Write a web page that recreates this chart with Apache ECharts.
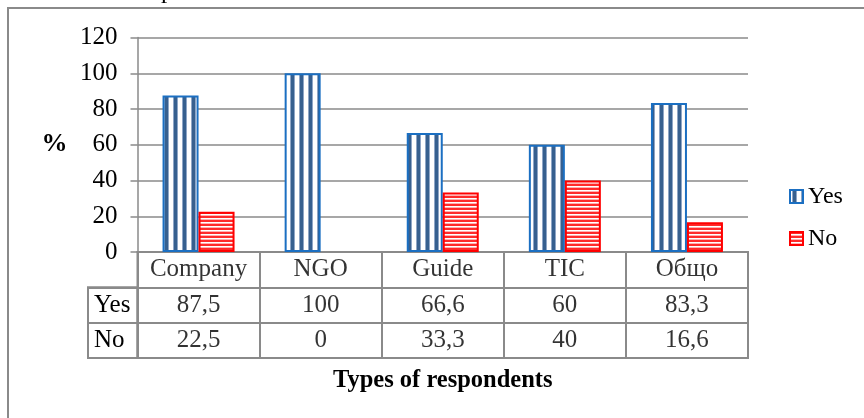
<!DOCTYPE html>
<html>
<head>
<meta charset="utf-8">
<script src="https://cdn.jsdelivr.net/npm/echarts@6/dist/echarts.min.js"></script>
<style>
html,body{margin:0;padding:0;background:#fff;}
#c{width:864px;height:418px;}
</style>
</head>
<body>
<div id="c"></div>
<script>
var categories = ['Company', 'NGO', 'Guide', 'TIC', 'Общо'];
var yesValues = [87.5, 100, 66.6, 60, 83.3];
var noValues = [22.5, 0, 33.3, 40, 16.6];
var seriesNames = ['Yes', 'No'];
var yTicks = { min: 0, max: 120, interval: 20 };

var FONT = 'Liberation Serif';
var FS = 25;
var GRAY = '#8a8a8a';

function fmt(v) { return String(v).replace('.', ','); }
function barVal(v) { return v === 0 ? null : v; }

function verticalStripes() {
  var c = document.createElement('canvas');
  c.width = 9; c.height = 9;
  var g = c.getContext('2d');
  g.fillStyle = '#ffffff'; g.fillRect(0, 0, 9, 9);
  g.fillStyle = '#8fa6c6'; g.fillRect(2, 0, 1, 9); g.fillRect(6, 0, 1, 9);
  g.fillStyle = '#37608f'; g.fillRect(3, 0, 3, 9);
  return c;
}
function horizontalStripes() {
  var c = document.createElement('canvas');
  c.width = 4; c.height = 4;
  var g = c.getContext('2d');
  g.fillStyle = '#ffffff'; g.fillRect(0, 0, 4, 4);
  g.fillStyle = '#ffb0b0'; g.fillRect(0, 3, 4, 1);
  g.fillStyle = '#ff2b2b'; g.fillRect(0, 0, 4, 2);
  return c;
}

var yesColor = { image: verticalStripes(), repeat: 'repeat' };
var noColor = { image: horizontalStripes(), repeat: 'repeat' };

var tableData = [];
for (var i = 0; i < categories.length; i++) {
  tableData.push([i, 2, categories[i]]);
  tableData.push([i, 1, fmt(yesValues[i])]);
  tableData.push([i, 0, fmt(noValues[i])]);
}

var chart = echarts.init(document.getElementById('c'), null, { renderer: 'canvas' });

chart.setOption({
  backgroundColor: '#fff',
  animation: false,
  textStyle: { fontFamily: FONT },
  graphic: [
    { type: 'rect', shape: { x: 8, y: 8, width: 1000, height: 600 }, style: { fill: 'none', stroke: GRAY, lineWidth: 2 }, silent: true },
    { type: 'text', left: 161, top: -21, style: { text: 'p', font: '25px "Liberation Serif"', fill: '#000' }, silent: true }
  ],
  legend: {
    data: seriesNames,
    orient: 'vertical',
    left: 789,
    top: 184,
    padding: 0,
    itemWidth: 13,
    itemHeight: 13,
    itemGap: 17,
    icon: 'rect',
    textStyle: { fontFamily: FONT, fontSize: 24, color: '#000', lineHeight: 25 }
  },
  grid: [
    { left: 137.5, top: 37.5, width: 610.5, height: 214.5, containLabel: false },
    { left: 137.5, top: 252, width: 610.5, height: 106, show: true, borderColor: GRAY, borderWidth: 2, backgroundColor: 'transparent' },
    { left: 88, top: 287.3, width: 49.5, height: 70.7, show: true, borderColor: GRAY, borderWidth: 2, backgroundColor: 'transparent' }
  ],
  xAxis: [
    { gridIndex: 0, type: 'category', data: categories, axisLine: { show: true, lineStyle: { color: GRAY, width: 2 } }, axisTick: { show: false }, axisLabel: { show: false }, splitLine: { show: false } },
    { gridIndex: 1, type: 'category', data: categories, axisLine: { show: false }, axisTick: { show: false }, axisLabel: { show: false },
      splitLine: { show: true, lineStyle: { color: GRAY, width: 2 } },
      name: 'Types of respondents', nameLocation: 'middle', nameGap: 10,
      nameTextStyle: { fontFamily: FONT, fontSize: 24.5, fontWeight: 'bold', color: '#000' } },
    { gridIndex: 2, type: 'category', data: [''], axisLine: { show: false }, axisTick: { show: false }, axisLabel: { show: false }, splitLine: { show: false } }
  ],
  yAxis: [
    { gridIndex: 0, type: 'value', min: yTicks.min, max: yTicks.max, interval: yTicks.interval,
      axisLine: { show: true, lineStyle: { color: GRAY, width: 1.5 } },
      axisTick: { show: true, length: 7, lineStyle: { color: GRAY, width: 1.5 } },
      axisLabel: { margin: 20, fontFamily: FONT, fontSize: FS, color: '#000' },
      splitLine: { show: true, lineStyle: { color: GRAY, width: 1.5 } },
      name: '%', nameLocation: 'middle', nameRotate: 0, nameGap: 70,
      nameTextStyle: { fontFamily: FONT, fontSize: 26, fontWeight: 'bold', color: '#000', padding: [10, 0, 0, 0] } },
    { gridIndex: 1, type: 'category', data: ['No', 'Yes', ''], axisLine: { show: false }, axisTick: { show: false }, axisLabel: { show: false },
      splitLine: { show: true, lineStyle: { color: GRAY, width: 2 } } },
    { gridIndex: 2, type: 'category', data: ['No', 'Yes'], axisLine: { show: false }, axisTick: { show: false },
      axisLabel: { show: true, inside: true, margin: 6, fontFamily: FONT, fontSize: FS, color: '#000' },
      splitLine: { show: true, lineStyle: { color: GRAY, width: 2 } } }
  ],
  series: [
    { name: seriesNames[0], type: 'bar', xAxisIndex: 0, yAxisIndex: 0, data: yesValues.map(barVal), barWidth: 36, barGap: '0%',
      itemStyle: { color: yesColor, borderColor: '#1b6fc2', borderWidth: 2 } },
    { name: seriesNames[1], type: 'bar', xAxisIndex: 0, yAxisIndex: 0, data: noValues.map(barVal), barWidth: 36, barGap: '0%',
      itemStyle: { color: noColor, borderColor: '#ff0000', borderWidth: 2 } },
    { name: 'table', type: 'scatter', xAxisIndex: 1, yAxisIndex: 1, data: tableData, symbolSize: 1,
      itemStyle: { color: 'rgba(0,0,0,0)' }, silent: true,
      label: { show: true, position: 'inside', formatter: function (p) { return p.value[2]; }, fontFamily: FONT, fontSize: FS, color: '#000' } }
  ]
});
</script>
</body>
</html>
